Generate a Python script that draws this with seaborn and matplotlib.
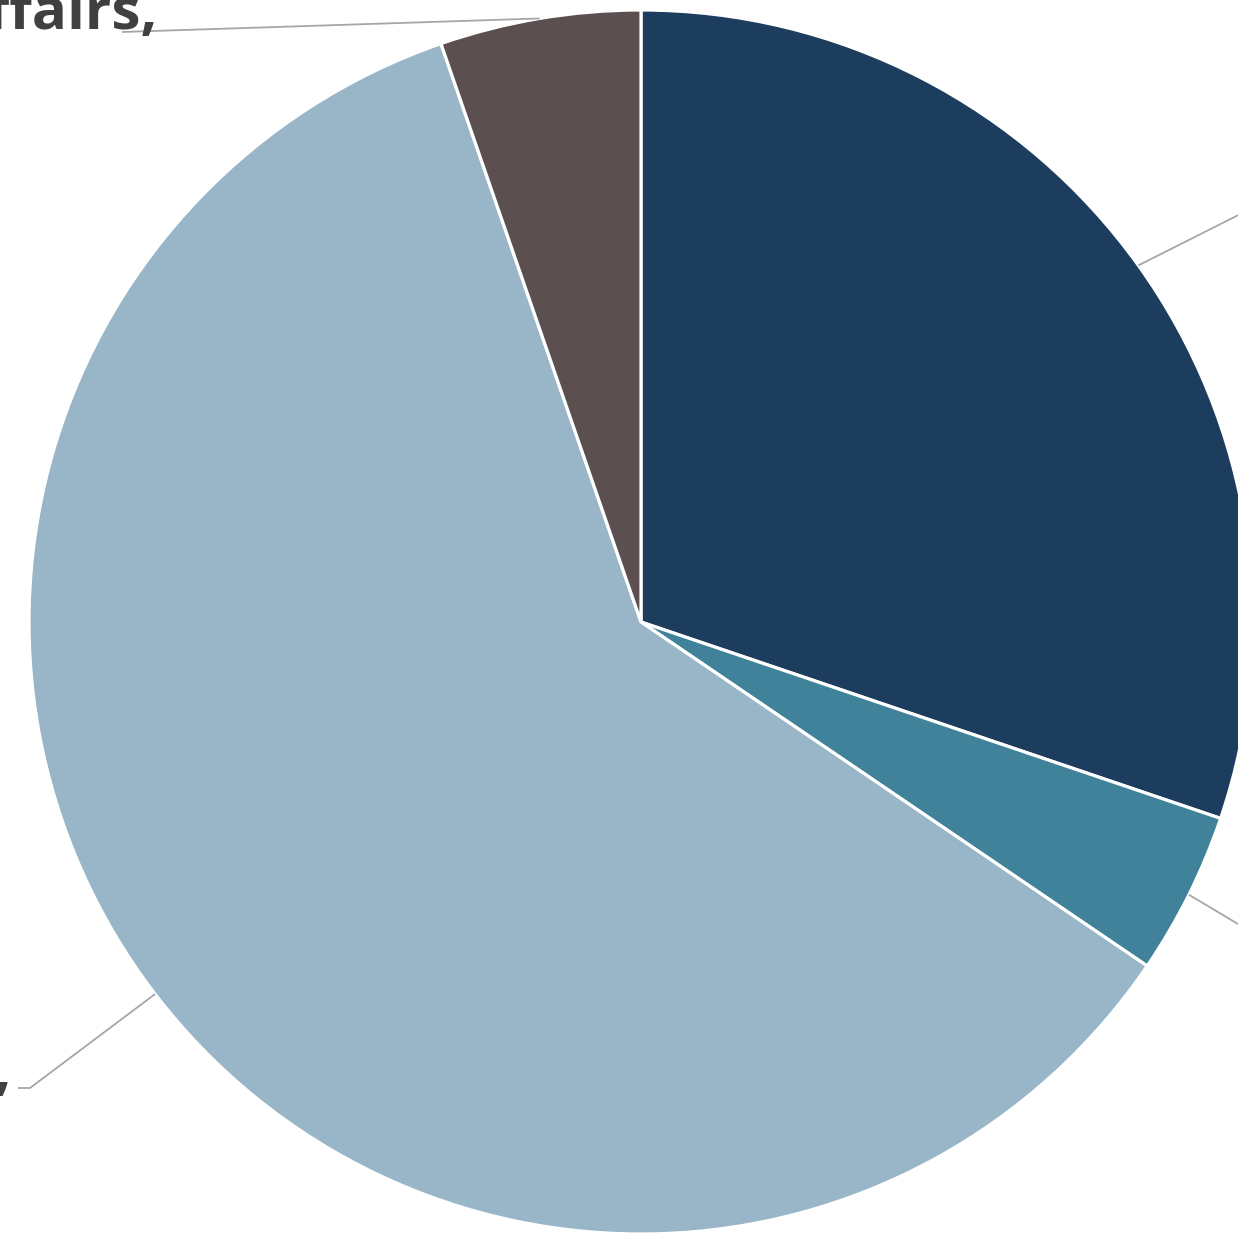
import numpy as np
import matplotlib
matplotlib.use("Agg")
import matplotlib.pyplot as plt
import seaborn as sns

# ---- data ----
categories = ["Defense", "Education", "Health & Human Services", "Veterans Affairs"]
values = [30.2, 4.3, 60.2, 5.3]
colors = ["#1d3d5f", "#3f8299", "#98b6c7", "#5c4f4f"]

# ---- layout (pixel coordinates, y measured from top) ----
W, H = 1238, 1234
CX, CY, R = 641, 622, 612
# leader line paths after leaving the wedge (elbow / end points) and label anchors
leader_paths = [
    [(1300, 184)],
    [(1300, 961)],
    [(30, 1088), (18, 1088)],
    [(122, 32)],
]
label_anchor = [(1310, 184, "left"), (1310, 961, "left"), (11, 1089, "right"), (157, 29, "right")]

sns.set_theme(style="white")
plt.rcParams["font.family"] = ["Open Sans", "DejaVu Sans"]

fig = plt.figure(figsize=(W / 100, H / 100), dpi=100)
ax = fig.add_axes([0, 0, 1, 1])
ax.set_xlim(0, W)
ax.set_ylim(0, H)
ax.set_aspect("equal")
ax.axis("off")

def Y(y):
    return H - y

wedges, _ = ax.pie(values, colors=colors, startangle=90, counterclock=False,
                   center=(CX, Y(CY)), radius=R,
                   wedgeprops=dict(edgecolor="white", linewidth=2.3))
ax.set_xlim(0, W)
ax.set_ylim(0, H)

total = sum(values)
cum = 0.0
for i, v in enumerate(values):
    mid = (cum + v / 2) / total * 360.0  # clockwise from top
    cum += v
    th = np.deg2rad(mid)
    sx = CX + R * np.sin(th)
    sy = CY - R * np.cos(th)
    pts = [(sx, sy)] + leader_paths[i]
    ax.plot([p[0] for p in pts], [Y(p[1]) for p in pts], color="#a6a6a6",
            linewidth=1.3, solid_capstyle="butt", clip_on=False)
    lx, ly, ha = label_anchor[i]
    t1 = ax.text(lx, Y(ly), f"{categories[i]},", ha=ha, va="baseline",
                 fontsize=42, fontweight="bold", color="#404040")
    ax.annotate(f"{v:.0f}%", xy=(0.5, 0), xycoords=t1, xytext=(0, -4),
                textcoords="offset points", ha="center", va="top",
                fontsize=42, fontweight="bold", color="#404040")

fig.savefig("out.png", dpi=100)
